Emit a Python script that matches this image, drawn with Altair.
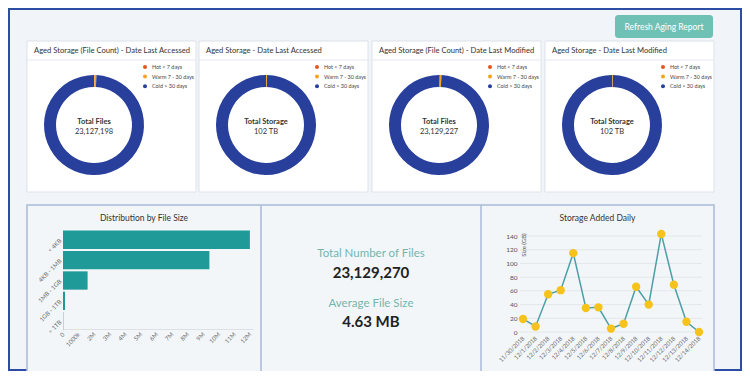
import altair as alt
import pandas as pd

# ---------------- data ----------------
card_titles = [
    "Aged Storage (File Count) - Date Last Accessed",
    "Aged Storage - Date Last Accessed",
    "Aged Storage (File Count) - Date Last Modified",
    "Aged Storage - Date Last Modified",
]
center_labels = ["Total Files", "Total Storage", "Total Files", "Total Storage"]
center_values = ["23,127,198", "102 TB", "23,129,227", "102 TB"]

age_classes = ["Hot < 7 days", "Warm 7 - 30 days", "Cold > 30 days"]
share_files_accessed = [0.1, 0.7, 99.2]
share_storage_accessed = [0.05, 0.3, 99.65]
share_files_modified = [0.3, 0.5, 99.2]
share_storage_modified = [0.05, 0.25, 99.7]

size_bins = ["< 4KB", "4KB - 1MB", "1MB - 1GB", "1GB - 1TB", "> 1TB"]
file_counts = [12_000_000, 9_400_000, 1_580_000, 130_000, 20_000]
tick_millions = list(range(0, 13))

dates = ["11/30/2018", "12/1/2018", "12/2/2018", "12/3/2018", "12/4/2018",
         "12/5/2018", "12/6/2018", "12/7/2018", "12/8/2018", "12/9/2018",
         "12/10/2018", "12/11/2018", "12/12/2018", "12/13/2018", "12/14/2018"]
added_gb = [19, 8, 55, 61, 115, 35, 36, 5, 12, 66, 40, 143, 69, 15, 0]
gb_ticks = [0, 20, 40, 60, 80, 100, 120, 140]

summary_labels = ["Total Number of Files", "Average File Size"]
summary_values = ["23,129,270", "4.63 MB"]
button_label = "Refresh Aging Report"
panel_titles = ["Distribution by File Size", "Storage Added Daily"]
y_title = "Size (GB)"

# ---------------- style / layout ----------------
W, H = 734, 363
OFF = 8
FONT = "Lato"
age_colors = ["#e2561f", "#f5a31d", "#283f9c"]


def px(v):
    return v - OFF


def rect(x0, y0, x1, y1, fill, stroke=None, sw=1.0, r=0, fill_opacity=1.0):
    kw = dict(fill=fill, fillOpacity=fill_opacity)
    if stroke:
        kw.update(stroke=stroke, strokeWidth=sw)
    if r:
        kw["cornerRadius"] = r
    return alt.Chart().mark_rect(**kw).encode(
        x=alt.value(px(x0)), x2=alt.value(px(x1)),
        y=alt.value(px(y0)), y2=alt.value(px(y1)))


def hline(x0, x1, y, color, sw=1.0):
    return alt.Chart().mark_rule(color=color, strokeWidth=sw).encode(
        x=alt.value(px(x0)), x2=alt.value(px(x1)), y=alt.value(px(y)))


def vline(x, y0, y1, color, sw=1.0):
    return alt.Chart().mark_rule(color=color, strokeWidth=sw).encode(
        x=alt.value(px(x)), y=alt.value(px(y0)), y2=alt.value(px(y1)))


def label(text, x, y, size, color="#333333", weight="normal", align="center", angle=0):
    kw = dict(text=text, fontSize=size, color=color, fontWeight=weight,
              align=align, baseline="middle", font=FONT)
    if angle:
        kw["angle"] = angle
    return alt.Chart().mark_text(**kw).encode(x=alt.value(px(x)), y=alt.value(px(y)))


def donut(shares, cx, cy, lx, ly):
    df = pd.DataFrame({"cls": age_classes, "share": shares, "idx": [0, 1, 2]})
    return alt.Chart(df).mark_arc(innerRadius=38, outerRadius=50).encode(
        theta=alt.Theta("share:Q", stack=True),
        order=alt.Order("idx:Q"),
        color=alt.Color(
            "cls:N",
            scale=alt.Scale(domain=age_classes, range=age_colors),
            legend=alt.Legend(orient="none", legendX=px(lx), legendY=px(ly), title=None,
                              symbolType="circle", symbolSize=16, labelFontSize=5.4,
                              labelColor="#444444", rowPadding=2.6, labelOffset=4,
                              padding=0, labelFont=FONT, zindex=2)),
        x=alt.value(px(cx)), y=alt.value(px(cy)))


layers = []

# outer frame
layers.append(rect(9, 9, 741, 370, "#ffffff", stroke="#2c4da3", sw=2, fill_opacity=0))

# button
layers.append(rect(615, 15, 713, 38, "#6fc1b6", r=3))
layers.append(label(button_label, 664, 26.5, 8.5, color="#ffffff"))

# donut cards
card_x0 = [27, 199, 372, 545]
card_w = 169
shares = [share_files_accessed, share_storage_accessed, share_files_modified, share_storage_modified]
for i, x0 in enumerate(card_x0):
    layers.append(rect(x0, 41, x0 + card_w, 192, "#ffffff", stroke="#dde3ea", sw=1))
    layers.append(hline(x0, x0 + card_w, 60, "#e4e8ee"))
    layers.append(label(card_titles[i], x0 + 7, 50.5, 7.6, align="left"))
    cx = x0 + 67
    layers.append(donut(shares[i], cx, 125, x0 + 115, 64))
    layers.append(label(center_labels[i], cx, 121.5, 7.5, weight="bold"))
    layers.append(label(center_values[i], cx, 131.5, 7.5))

# bottom panel
layers.append(rect(27, 205, 714, 372, "#f3f6f9", stroke="#a9bbd7", sw=1.5))
layers.append(vline(261, 205, 372, "#a9bbd7", 1.5))
layers.append(vline(481, 205, 372, "#a9bbd7", 1.5))
layers.append(label(panel_titles[0], 144, 218, 8.5))
layers.append(label(panel_titles[1], 597.5, 218, 8.5))

# summary texts
layers.append(label(summary_labels[0], 371, 254, 11.5, color="#73b5ae"))
layers.append(label(summary_values[0], 371, 273, 15, color="#222222", weight="bold"))
layers.append(label(summary_labels[1], 371, 304, 11.5, color="#73b5ae"))
layers.append(label(summary_values[1], 371, 322, 15, color="#222222", weight="bold"))

# bar chart
bar_df = pd.DataFrame({"bin": size_bins, "count": file_counts})
bar = alt.Chart(bar_df).mark_bar(color="#1f9a98").encode(
    x=alt.X("count:Q",
            scale=alt.Scale(domain=[0, 12_200_000], range=[px(63), px(253)], nice=False, zero=True),
            axis=alt.Axis(orient="bottom", offset=px(329) - H,
                          values=[m * 1_000_000 for m in tick_millions],
                          labelExpr="datum.value == 0 ? '0' : (datum.value == 1000000 ? '1000k' : format(datum.value / 1000000, 'd') + 'M')",
                          labelAngle=315, labelAlign="right", labelBaseline="middle",
                          labelFontSize=6, labelColor="#666666", labelFont=FONT, labelPadding=4,
                          labelOverlap=False, labelBound=False,
                          ticks=False, domainColor="#dde1e6", grid=False, title=None, zindex=1)),
    y=alt.Y("bin:N", sort=size_bins,
            scale=alt.Scale(range=[px(230), px(331)], paddingInner=0.1, paddingOuter=0.03),
            axis=alt.Axis(orient="left", offset=-px(62), labelAngle=315, labelAlign="right",
                          labelBaseline="middle", labelFontSize=6, labelColor="#666666",
                          labelFont=FONT, labelPadding=2, labelOverlap=False, ticks=False,
                          domain=False, grid=False, title=None, zindex=1)),
)
layers.append(bar)

# line chart
line_df = pd.DataFrame({"date": dates, "gb": added_gb})
grid_df = pd.DataFrame({"gb": gb_ticks})
yscale = alt.Scale(domain=[0, 140], range=[px(332), px(236)], nice=False)
base = alt.Chart(line_df).encode(
    x=alt.X("date:N", sort=dates,
            scale=alt.Scale(type="point", range=[px(523), px(699)], padding=0),
            axis=alt.Axis(orient="bottom", offset=px(332) - H, labelAngle=315, labelAlign="right",
                          labelBaseline="middle", labelFontSize=6, labelColor="#666666",
                          labelFont=FONT, labelPadding=5, labelOverlap=False, labelBound=False,
                          ticks=False, domain=False, grid=False, title=None, zindex=1)),
    y=alt.Y("gb:Q", scale=yscale,
            axis=alt.Axis(orient="left", offset=-px(519), values=gb_ticks, grid=False,
                          labelFontSize=6.5, labelColor="#555555", labelOverlap=False,
                          labelFont=FONT, labelPadding=2, ticks=False, domain=False,
                          title=None, zindex=1)),
)
grid = alt.Chart(grid_df).mark_rule(color="#e3e6ea", strokeWidth=1).encode(
    y=alt.Y("gb:Q", scale=yscale),
    x=alt.value(px(520)), x2=alt.value(px(702)),
)
line_panel = alt.layer(
    grid,
    base.mark_line(color="#4aa0a6", strokeWidth=1.5),
    base.mark_circle(size=70, color="#f6c21c", opacity=1),
)
layers.append(line_panel)
layers.append(label(y_title, 524, 245, 6, color="#555555", angle=270))

chart = (
    alt.layer(*layers)
    .resolve_scale(x="independent", y="independent", theta="independent", color="independent")
    .resolve_axis(x="independent", y="independent")
    .resolve_legend(color="independent")
    .properties(width=W, height=H, padding=0,
                autosize=alt.AutoSizeParams(type="none"), background="#f1f4f8")
    .configure(font=FONT)
    .configure_view(stroke=None)
)

chart.save("out.html", embed_options={"renderer": "svg", "actions": False})
